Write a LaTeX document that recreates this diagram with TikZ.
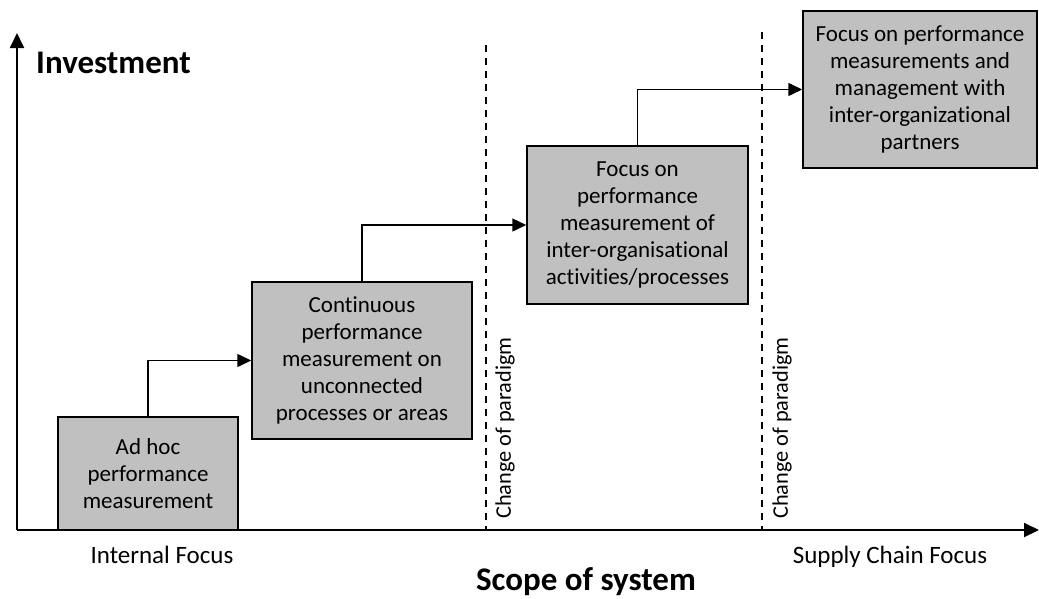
\documentclass[tikz,border=0pt]{standalone}
\usepackage{fontspec}
\setmainfont{Carlito}[Ligatures=CommonOff]
\usetikzlibrary{arrows.meta}
\definecolor{boxgray}{HTML}{C0C0C0}
\tikzset{
  stagebox/.style={draw=black, fill=boxgray, line width=1.5pt, align=center, inner sep=0pt,
    font=\fontsize{23}{26.8}\selectfont},
  conn/.style={line width=1.5pt, -{Triangle[length=14pt,width=13pt]}},
  axis/.style={line width=2pt, -{Triangle[length=15pt,width=14pt]}},
  paradigm/.style={draw=black, line width=1.5pt, dash pattern=on 7pt off 6pt},
  plabel/.style={rotate=90, anchor=west, inner sep=0pt, font=\fontsize{22.3}{26.7}\selectfont},
  axlabel/.style={inner sep=0pt, anchor=base, font=\fontsize{25}{30}\selectfont},
  axtitle/.style={inner sep=0pt, font=\fontsize{33}{38}\selectfont\bfseries}
}
\begin{document}
\begin{tikzpicture}[x=1pt,y=-1pt]
\useasboundingbox (0,0) rectangle (1039,598);
% paradigm lines
\coordinate (p1t) at (486,45);
\coordinate (p1b) at (486,529);
\coordinate (p2t) at (762,32);
\coordinate (p2b) at (762,529);
\draw[paradigm] (p1t) -- (p1b);
\draw[paradigm] (p2t) -- (p2b);
\node[plabel] (pl1) at (505,519) {Change of paradigm};
\node[plabel] (pl2) at (782,519) {Change of paradigm};
% boxes
\node[stagebox, minimum width=180pt, minimum height=113pt] (b1) at (148,473.5)
  {Ad hoc\\performance\\measurement};
\node[stagebox, minimum width=220pt, minimum height=157pt] (b2) at (362,360.5)
  {Continuous\\performance\\measurement on\\unconnected\\processes or areas};
\node[stagebox, minimum width=221pt, minimum height=158pt] (b3) at (637.5,225)
  {Focus on\\performance\\measurement of\\inter-organisational\\activities/processes};
\node[stagebox, minimum width=234pt, minimum height=157pt] (b4) at (920,89.5)
  {Focus on performance\\measurements and\\management with\\inter-organizational\\partners};
% connectors
\draw[conn] (b1.north) |- (b2.west);
\draw[conn] (b2.north) |- (b3.west);
\draw[conn] (b3.north) |- (b4.west);
% axes
\coordinate (o) at (17,530);
\coordinate (ytip) at (17,33);
\coordinate (xtip) at (1039,530);
\draw[axis] (o) -- (ytip);
\draw[axis] (o) -- (xtip);
% labels
\node[axtitle, anchor=base west] (inv) at (36,73) {Investment};
\node[axlabel] (intf) at (162,563) {Internal Focus};
\node[axlabel] (scf) at (890,563) {Supply Chain Focus};
\node[axtitle, anchor=base] (scope) at (586,590) {Scope of system};
\end{tikzpicture}
\end{document}
